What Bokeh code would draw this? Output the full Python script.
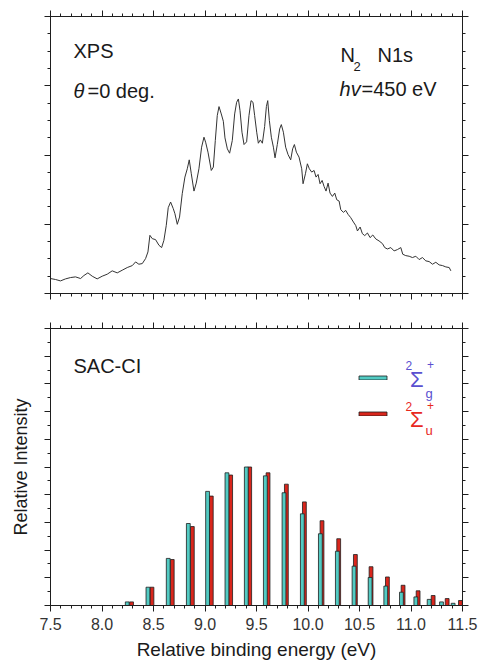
import numpy as np
from bokeh.plotting import figure
from bokeh.models import (Range1d, LinearAxis, FixedTicker, CustomJSTickFormatter,
                          NumeralTickFormatter, Label, Legend, LegendItem, ColumnDataSource)
from bokeh.layouts import column
from bokeh.embed import file_html
from bokeh.resources import INLINE

# ---------------- data ----------------
# XPS spectrum (relative binding energy in eV, intensity in arbitrary units)
spec_ev = [7.500, 7.549, 7.597, 7.646, 7.694, 7.743, 7.792, 7.824, 7.863, 7.905,
           7.953, 8.002, 8.051, 8.099, 8.148, 8.196, 8.245, 8.294, 8.326, 8.358,
           8.391, 8.423, 8.446, 8.465, 8.488, 8.520, 8.553, 8.579, 8.601, 8.624,
           8.643, 8.666, 8.692, 8.708, 8.731, 8.753, 8.779, 8.805, 8.828, 8.847,
           8.867, 8.893, 8.915, 8.941, 8.967, 8.990, 9.006, 9.029, 9.061, 9.081,
           9.100, 9.119, 9.136, 9.158, 9.178, 9.194, 9.217, 9.239, 9.265, 9.288,
           9.307, 9.324, 9.340, 9.359, 9.379, 9.404, 9.427, 9.447, 9.466, 9.482,
           9.502, 9.518, 9.537, 9.557, 9.579, 9.596, 9.609, 9.625, 9.644, 9.664,
           9.680, 9.702, 9.725, 9.741, 9.761, 9.783, 9.806, 9.832, 9.851, 9.868,
           9.887, 9.913, 9.939, 9.952, 9.975, 9.994, 10.013, 10.036, 10.059, 10.078,
           10.098, 10.117, 10.137, 10.156, 10.175, 10.195, 10.214, 10.237, 10.260, 10.279,
           10.302, 10.318, 10.344, 10.366, 10.389, 10.415, 10.441, 10.464, 10.480, 10.506,
           10.528, 10.551, 10.577, 10.603, 10.629, 10.658, 10.690, 10.723, 10.745, 10.771,
           10.804, 10.836, 10.868, 10.901, 10.920, 10.949, 10.982, 11.014, 11.047, 11.079,
           11.111, 11.144, 11.176, 11.209, 11.241, 11.273, 11.306, 11.338, 11.371, 11.387]
spec_int = [0.216, 0.202, 0.182, 0.211, 0.230, 0.240, 0.216, 0.259, 0.298, 0.250,
            0.211, 0.250, 0.279, 0.327, 0.298, 0.336, 0.375, 0.403, 0.456, 0.423,
            0.432, 0.504, 0.600, 0.840, 0.792, 0.778, 0.696, 0.663, 0.768, 0.984,
            1.239, 1.321, 1.225, 1.152, 0.999, 1.104, 1.441, 1.681, 1.801, 1.930,
            1.729, 1.479, 1.594, 1.801, 2.113, 2.257, 2.185, 2.041, 1.777, 1.825,
            2.209, 2.569, 2.699, 2.593, 2.487, 2.247, 2.089, 2.026, 2.209, 2.593,
            2.761, 2.809, 2.641, 2.329, 2.151, 2.190, 2.569, 2.785, 2.761, 2.569,
            2.329, 2.170, 2.218, 2.170, 2.411, 2.699, 2.785, 2.497, 2.257, 2.113,
            1.959, 2.151, 2.377, 2.439, 2.329, 2.113, 2.007, 1.930, 2.089, 2.151,
            2.041, 1.969, 1.801, 1.585, 1.729, 1.873, 1.801, 1.753, 1.777, 1.681,
            1.719, 1.585, 1.633, 1.546, 1.479, 1.594, 1.450, 1.402, 1.450, 1.354,
            1.335, 1.210, 1.172, 1.200, 1.143, 1.095, 1.032, 0.980, 0.903, 0.960,
            0.864, 0.836, 0.874, 0.807, 0.845, 0.788, 0.759, 0.720, 0.663, 0.643,
            0.663, 0.615, 0.634, 0.663, 0.567, 0.547, 0.538, 0.519, 0.538, 0.490,
            0.519, 0.471, 0.461, 0.423, 0.451, 0.413, 0.403, 0.384, 0.375, 0.327]

# SAC-CI stick spectrum: 2Sigma_g+ and 2Sigma_u+
g_pos = [8.245, 8.446, 8.643, 8.838, 9.025, 9.213, 9.401, 9.586, 9.767, 9.945,
         10.120, 10.285, 10.447, 10.603, 10.755, 10.907, 11.047, 11.176, 11.296, 11.409]
g_int = [0.13, 0.66, 1.70, 2.96, 4.12, 4.79, 5.00, 4.68, 4.07, 3.31,
         2.59, 1.96, 1.42, 1.01, 0.70, 0.48, 0.31, 0.22, 0.13, 0.08]
u_pos = [8.287, 8.485, 8.682, 8.877, 9.061, 9.249, 9.434, 9.612, 9.790, 9.965,
         10.136, 10.298, 10.460, 10.612, 10.771, 10.923, 11.069, 11.215, 11.351, 11.480]
u_int = [0.13, 0.66, 1.66, 2.85, 3.95, 4.71, 5.00, 4.79, 4.38, 3.74,
         3.06, 2.41, 1.84, 1.40, 1.03, 0.73, 0.53, 0.36, 0.25, 0.18]

x_ticks = [7.5, 8.0, 8.5, 9.0, 9.5, 10.0, 10.5, 11.0, 11.5]
x_tick_labels = ["7.5", "8.0", "8.5", "9.0", "9.5", "10.0", "10.5", "11.0", "11.5"]

# ---------------- style ----------------
FONT = "Liberation Sans"
AX = "#1e1e1e"
CYAN = "#52cbc3"
RED = "#d9261c"
BLUE_T = "#5a50d0"
RED_T = "#e8281e"

x_minor = [round(v, 2) for v in np.arange(7.5, 11.5001, 0.1)]
top_y_major = [0, 1, 2, 3, 4]
top_y_minor = [round(v, 2) for v in np.arange(0, 4.001, 0.25)]
bot_y_major = list(range(0, 11))
bot_y_minor = [round(v, 2) for v in np.arange(0, 10.001, 0.5)]


def style_axis(ax, major, minor, labels=False):
    ax.ticker = FixedTicker(ticks=major, minor_ticks=minor)
    ax.axis_line_color = AX
    ax.axis_line_width = 1
    ax.major_tick_line_color = AX
    ax.minor_tick_line_color = AX
    ax.major_tick_in = 0
    ax.major_tick_out = 6
    ax.minor_tick_in = 0
    ax.minor_tick_out = 3
    if not labels:
        ax.formatter = CustomJSTickFormatter(code="return ''")
        ax.major_label_text_font_size = "1px"
        ax.major_label_standoff = 0


def make_fig(h, ymax, top_border, bottom_border):
    p = figure(width=479, height=h, output_backend="svg", toolbar_location=None,
               x_range=Range1d(7.5, 11.5), y_range=Range1d(0, ymax),
               min_border_left=50, min_border_right=17,
               min_border_top=top_border, min_border_bottom=bottom_border)
    p.xgrid.visible = False
    p.ygrid.visible = False
    p.outline_line_color = AX
    p.background_fill_color = "white"
    p.border_fill_color = "white"
    return p


# ---------------- top panel: XPS ----------------
p1 = make_fig(310, 4, 16, 17)
style_axis(p1.xaxis[0], x_ticks, x_minor)
style_axis(p1.yaxis[0], top_y_major, top_y_minor)
a = LinearAxis(); style_axis(a, x_ticks, x_minor); p1.add_layout(a, "above")
a = LinearAxis(); style_axis(a, top_y_major, top_y_minor); p1.add_layout(a, "right")

p1.line(x=spec_ev, y=spec_int, line_color="#333333", line_width=1)


def lab(p, x, y, text, size="20px", color="#1a1a1a", style="normal", baseline="middle"):
    p.add_layout(Label(x=x, y=y, text=text, text_font=FONT, text_font_size=size,
                       text_color=color, text_font_style=style, text_baseline=baseline,
                       text_align="left"))


lab(p1, 7.723, 3.50, "XPS")
lab(p1, 7.723, 2.93, "θ", style="italic")
lab(p1, 7.859, 2.93, "=0 deg.")
lab(p1, 10.316, 3.45, "N")
lab(p1, 10.442, 3.28, "2", size="13px")
lab(p1, 10.675, 3.45, "N1s")
lab(p1, 10.306, 2.95, "hv", style="italic")
lab(p1, 10.519, 2.95, "=450 eV")

# ---------------- bottom panel: SAC-CI ----------------
p2 = make_fig(353, 10, 18, 58)
xb = p2.xaxis[0]
style_axis(xb, x_ticks, x_minor, labels=True)
xb.formatter = NumeralTickFormatter(format="0.0")
xb.major_label_overrides = {t: s for t, s in zip(x_ticks, x_tick_labels)}
xb.major_label_text_font = FONT
xb.major_label_text_font_size = "16px"
xb.major_label_text_color = "#333333"
xb.major_label_standoff = 6
xb.axis_label = "Relative binding energy (eV)"
xb.axis_label_text_font = FONT
xb.axis_label_text_font_size = "19px"
xb.axis_label_text_font_style = "normal"
xb.axis_label_text_color = "#1a1a1a"
xb.axis_label_standoff = 6

yl = p2.yaxis[0]
style_axis(yl, bot_y_major, bot_y_minor)
yl.axis_label = "Relative Intensity"
yl.axis_label_text_font = FONT
yl.axis_label_text_font_size = "18px"
yl.axis_label_text_font_style = "normal"
yl.axis_label_text_color = "#1a1a1a"
yl.axis_label_standoff = 14

a = LinearAxis(); style_axis(a, x_ticks, x_minor); p2.add_layout(a, "above")
a = LinearAxis(); style_axis(a, bot_y_major, bot_y_minor); p2.add_layout(a, "right")

src_u = ColumnDataSource(dict(x=u_pos, top=u_int))
src_g = ColumnDataSource(dict(x=g_pos, top=g_int))
r_u = p2.vbar(x="x", top="top", width=0.037, source=src_u, fill_color=RED,
              line_color=AX, line_width=0.8)
r_g = p2.vbar(x="x", top="top", width=0.037, source=src_g, fill_color=CYAN,
              line_color=AX, line_width=0.8)

legend = Legend(items=[LegendItem(label=" ", renderers=[r_g]),
                       LegendItem(label=" ", renderers=[r_u])],
                location=(305, 189), orientation="vertical",
                glyph_width=35, glyph_height=5, label_height=5, label_width=1,
                spacing=31, padding=0, margin=0, label_standoff=0,
                border_line_color=None, background_fill_alpha=0,
                label_text_font_size="1px")
p2.add_layout(legend)

lab(p2, 7.723, 8.64, "SAC-CI")
# 2Σg+
lab(p2, 10.947, 8.66, "2", size="12px", color=BLUE_T)
lab(p2, 10.990, 8.15, "Σ", size="22px", color=BLUE_T)
lab(p2, 11.155, 8.70, "+", size="12px", color=BLUE_T)
lab(p2, 11.140, 7.66, "g", size="13px", color=BLUE_T, baseline="alphabetic")
# 2Σu+
lab(p2, 10.947, 7.20, "2", size="12px", color=RED_T)
lab(p2, 10.990, 6.70, "Σ", size="22px", color=RED_T)
lab(p2, 11.155, 7.23, "+", size="12px", color=RED_T)
lab(p2, 11.140, 6.32, "u", size="13px", color=RED_T)

layout = column(p1, p2)
open("out.html", "w").write(file_html(layout, INLINE))
